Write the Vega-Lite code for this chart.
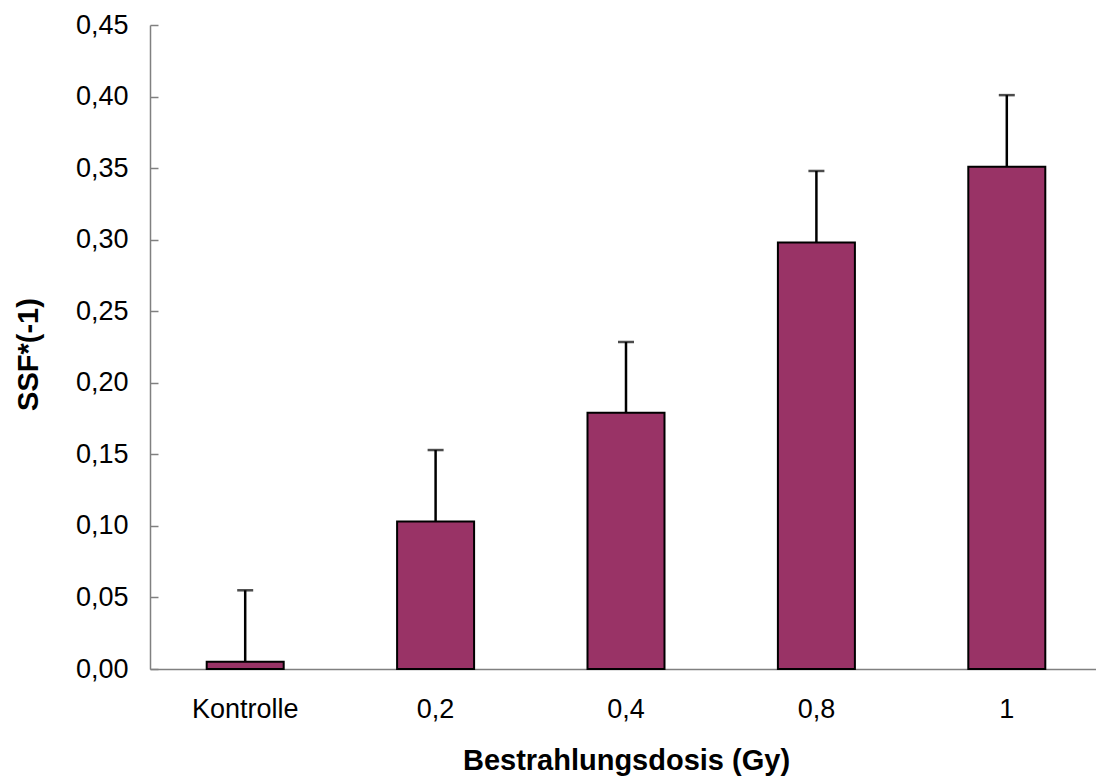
{
  "$schema": "https://vega.github.io/schema/vega-lite/v6.json",
  "autosize": {"type": "none"},
  "padding": {"left": 150, "top": 25, "right": 0, "bottom": 109},
  "width": 946,
  "height": 644,
  "background": "white",
  "config": {
    "view": {"stroke": null},
    "font": "Liberation Sans"
  },
  "data": {
    "values": [
      {"dose": "Kontrolle", "ssf": 0.005, "upper": 0.055},
      {"dose": "0,2", "ssf": 0.103, "upper": 0.153},
      {"dose": "0,4", "ssf": 0.179, "upper": 0.2285},
      {"dose": "0,8", "ssf": 0.298, "upper": 0.348},
      {"dose": "1", "ssf": 0.351, "upper": 0.401}
    ]
  },
  "encoding": {
    "x": {
      "field": "dose",
      "type": "nominal",
      "sort": null,
      "scale": {"range": [0, 952], "paddingInner": 0, "paddingOuter": 0},
      "axis": {
        "title": "Bestrahlungsdosis (Gy)",
        "titleFont": "Liberation Sans",
        "titleFontSize": 29,
        "titleFontWeight": "bold",
        "titleColor": "black",
        "titleBaseline": "alphabetic",
        "titleY": 100,
        "labelAngle": 0,
        "labelFont": "Liberation Sans",
        "labelFontSize": 27,
        "labelColor": "black",
        "labelPadding": 27,
        "ticks": false,
        "domainColor": "#808080",
        "domainWidth": 1.5,
        "grid": false
      }
    }
  },
  "layer": [
    {
      "mark": {"type": "bar", "size": 77, "color": "#993366", "stroke": "black", "strokeWidth": 2},
      "encoding": {
        "y": {
          "field": "ssf",
          "type": "quantitative",
          "scale": {"domain": [0, 0.45], "nice": false, "zero": true},
          "axis": {
            "title": "SSF*(-1)",
            "titleFont": "Liberation Sans",
            "titleFontSize": 29,
            "titleFontWeight": "bold",
            "titleColor": "black",
            "titleAngle": -90,
            "titleBaseline": "alphabetic",
            "titleAlign": "center",
            "titleX": -113,
            "titleY": 329,
            "values": [0, 0.05, 0.1, 0.15, 0.2, 0.25, 0.3, 0.35, 0.4, 0.45],
            "labelExpr": "replace(format(datum.value, '.2f'), '.', ',')",
            "labelFont": "Liberation Sans",
            "labelFontSize": 27,
            "labelColor": "black",
            "tickSize": -8,
            "tickColor": "#808080",
            "tickWidth": 1.5,
            "labelPadding": 30,
            "domainColor": "#808080",
            "domainWidth": 1.5,
            "grid": false
          }
        }
      }
    },
    {
      "mark": {"type": "rule", "color": "black", "strokeWidth": 2.5},
      "encoding": {
        "y": {"field": "ssf", "type": "quantitative"},
        "y2": {"field": "upper"}
      }
    },
    {
      "mark": {"type": "tick", "color": "black", "size": 16, "thickness": 2.5, "orient": "horizontal"},
      "encoding": {
        "y": {"field": "upper", "type": "quantitative"}
      }
    }
  ]
}
